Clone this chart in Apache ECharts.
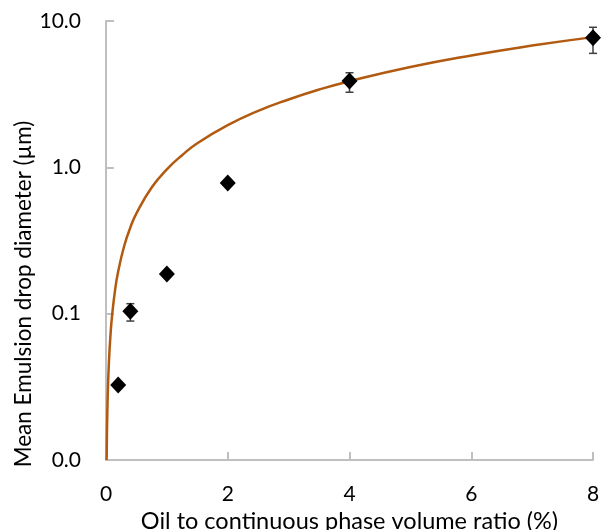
<!DOCTYPE html>
<html><head><meta charset="utf-8">
<script src="https://cdn.jsdelivr.net/npm/echarts@6/dist/echarts.min.js"></script>
<style>html,body{margin:0;padding:0;background:#fff}#c{width:601px;height:530px}</style>
</head><body><div id="c"></div>
<script>
// measured points
var ratioX = [0.2, 0.4, 1, 2, 4, 8];
var diameterY = [0.0325, 0.104, 0.187, 0.78, 3.89, 7.69];
// error bars: [x, low, high]
var errX = [0.4, 4, 8];
var errLow = [0.089, 3.26, 6.01];
var errHigh = [0.117, 4.43, 9.06];
// fitted trend curve
var curveX = [0.0103, 0.015, 0.02, 0.03, 0.05, 0.075, 0.1, 0.15, 0.2, 0.3, 0.4, 0.5, 0.75, 1, 1.25, 1.5, 2, 2.5, 3, 3.5, 4, 5, 6, 7, 8];
var curveY = [0.01, 0.0146, 0.0194, 0.0291, 0.0485, 0.0728, 0.097, 0.146, 0.194, 0.291, 0.388, 0.485, 0.728, 0.97, 1.21, 1.46, 1.94, 2.43, 2.91, 3.4, 3.88, 4.85, 5.82, 6.79, 7.76];
var xTicks = [0, 2, 4, 6, 8];
var yTicks = [0.01, 0.1, 1, 10];
var xTitle = 'Oil to continuous phase volume ratio (%)';
var yTitle = 'Mean Emulsion drop diameter (µm)';

var FONT = 'Lato';
var chart = echarts.init(document.getElementById('c'));
var pts = ratioX.map(function(x, i){ return [x, diameterY[i]]; });
var curve = curveX.map(function(x, i){ return [x, curveY[i]]; });
var errs = errX.map(function(x, i){ return [x, errLow[i], errHigh[i]]; });

chart.setOption({
  animation: false,
  grid: {left: 106, right: 8, top: 21, bottom: 70, containLabel: false, outerBoundsMode: 'none'},
  graphic: [{
    type: 'text', x: 24, y: 294, rotation: Math.PI / 2,
    style: {text: yTitle, font: '22.5px ' + FONT, fill: '#000', align: 'center', verticalAlign: 'middle'}
  }],
  xAxis: {
    type: 'value', min: 0, max: 8, interval: 2,
    name: xTitle,
    nameLocation: 'middle', nameGap: 44,
    nameTextStyle: {fontFamily: FONT, fontSize: 23.5, color: '#000'},
    axisLine: {lineStyle: {color: '#bfbfbf', width: 2}},
    axisTick: {inside: true, length: 8, lineStyle: {color: '#bfbfbf', width: 2}},
    axisLabel: {fontFamily: FONT, fontSize: 21, color: '#000', margin: 24},
    splitLine: {show: false}
  },
  yAxis: {
    type: 'log', logBase: 10, min: 0.01, max: 10,
    axisLine: {show: true, lineStyle: {color: '#bfbfbf', width: 2}},
    axisTick: {show: true, inside: true, length: 8, lineStyle: {color: '#bfbfbf', width: 2}},
    axisLabel: {fontFamily: FONT, fontSize: 21, color: '#000', margin: 25,
      formatter: function(v){ return v.toFixed(1); }},
    splitLine: {show: false}
  },
  series: [
    {
      type: 'line', data: curve, smooth: true, showSymbol: false, symbol: 'none',
      lineStyle: {color: '#b15a10', width: 2.5}, z: 2
    },
    {
      type: 'custom', data: errs, z: 3,
      renderItem: function(params, api){
        var x = api.value(0);
        var lo = api.coord([x, api.value(1)]);
        var hi = api.coord([x, api.value(2)]);
        var w = 4;
        var st = {stroke: '#404040', lineWidth: 1.5};
        return {type: 'group', children: [
          {type: 'line', shape: {x1: lo[0], y1: lo[1], x2: hi[0], y2: hi[1]}, style: st},
          {type: 'line', shape: {x1: lo[0]-w, y1: lo[1], x2: lo[0]+w, y2: lo[1]}, style: st},
          {type: 'line', shape: {x1: hi[0]-w, y1: hi[1], x2: hi[0]+w, y2: hi[1]}, style: st}
        ]};
      }
    },
    {
      type: 'scatter', data: pts, symbol: 'diamond', symbolSize: [16, 17],
      itemStyle: {color: '#000', opacity: 1}, z: 4
    }
  ]
});
</script></body></html>
